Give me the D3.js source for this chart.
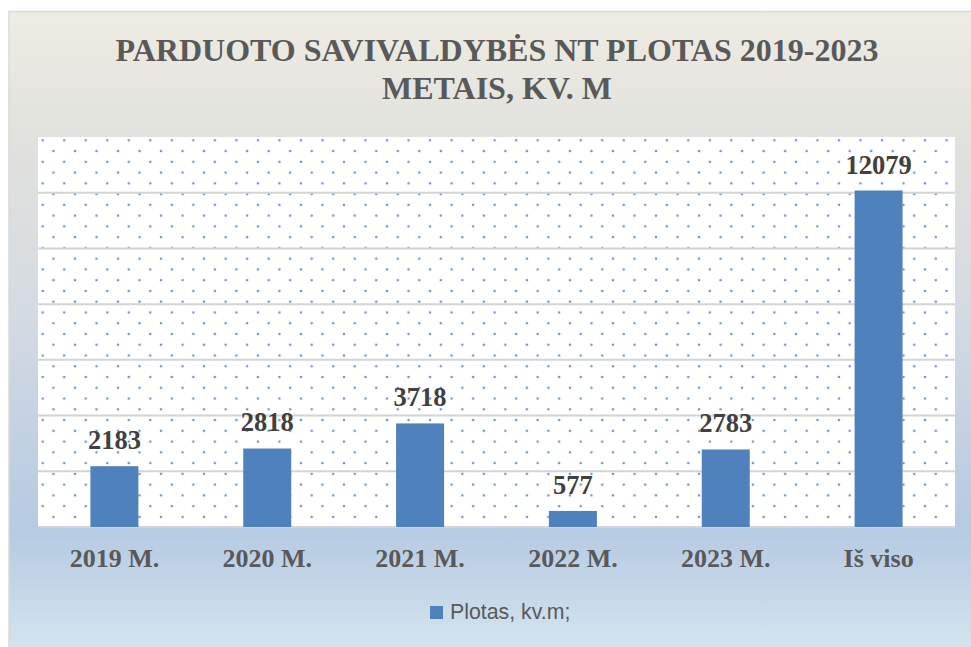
<!DOCTYPE html>
<html>
<head>
<meta charset="utf-8">
<script src="https://cdn.jsdelivr.net/npm/d3@7/dist/d3.min.js"></script>
<style>
html,body{margin:0;padding:0;background:#fff;}
svg{display:block;}
</style>
</head>
<body>
<svg id="chart" width="971" height="647"></svg>
<script>
const categories = ["2019 M.", "2020 M.", "2021 M.", "2022 M.", "2023 M.", "Iš viso"];
const values = [2183, 2818, 3718, 577, 2783, 12079];
const seriesName = "Plotas, kv.m;";
const titleLines = ["PARDUOTO SAVIVALDYBĖS NT PLOTAS 2019-2023", "METAIS, KV. M"];
const yTicks = [0, 2000, 4000, 6000, 8000, 10000, 12000];

const svg = d3.select("#chart");
const defs = svg.append("defs");

// background gradient
const grad = defs.append("linearGradient").attr("id", "bg").attr("x1", 0).attr("y1", 0).attr("x2", 0).attr("y2", 1);
[[0, "#eeece2"], [0.2, "#e1e1de"], [0.45, "#d5dbe2"], [0.8, "#b6cae2"], [1, "#d6e7ef"]].forEach(s =>
  grad.append("stop").attr("offset", s[0]).attr("stop-color", s[1]));

// dot pattern
const pat = defs.append("pattern").attr("id", "dots").attr("patternUnits", "userSpaceOnUse")
  .attr("width", 21.52).attr("height", 21.52).attr("x", 42.7).attr("y", 140.3);
pat.append("rect").attr("width", 21.52).attr("height", 21.52).attr("fill", "#fff");
[[0, 0], [10.76, 10.76], [21.52, 0], [0, 21.52], [21.52, 21.52]].forEach(p =>
  pat.append("circle").attr("cx", p[0]).attr("cy", p[1]).attr("r", 1.3).attr("fill", "#6a96d4"));

// chart area
svg.append("rect").attr("x", 9).attr("y", 11.5).attr("width", 980).attr("height", 650)
  .attr("fill", "url(#bg)").attr("stroke", "#d9d9d9").attr("stroke-width", 1.5);

const plot = {left: 38, top: 137, right: 955, bottom: 527};

const x = d3.scaleBand().domain(categories).range([plot.left, plot.right]).paddingInner(0.686).paddingOuter(0.343);
const y = d3.scaleLinear().domain([0, 14000]).range([plot.bottom, plot.top]);

svg.append("rect").attr("x", plot.left).attr("y", plot.top)
  .attr("width", plot.right - plot.left).attr("height", plot.bottom - plot.top)
  .attr("fill", "url(#dots)");

// gridlines
svg.append("g").selectAll("line").data(yTicks).join("line")
  .attr("x1", plot.left).attr("x2", plot.right)
  .attr("y1", d => y(d)).attr("y2", d => y(d))
  .attr("stroke", "#d4d4d4").attr("stroke-width", 2);

// bars
svg.append("g").selectAll("rect").data(values).join("rect")
  .attr("x", (d, i) => x(categories[i]))
  .attr("y", d => y(d))
  .attr("width", x.bandwidth())
  .attr("height", d => y(0) - y(d))
  .attr("fill", "#4f81bd");

// value labels
svg.append("g").selectAll("text").data(values).join("text")
  .attr("x", (d, i) => x(categories[i]) + x.bandwidth() / 2)
  .attr("y", d => y(d) - 17)
  .attr("text-anchor", "middle")
  .attr("font-family", "Liberation Serif, Times New Roman, serif")
  .attr("font-weight", "bold")
  .attr("font-size", 26.5)
  .attr("fill", "#404040")
  .text(d => d);

// x axis
const xAxis = svg.append("g").attr("transform", `translate(0,${plot.bottom})`)
  .call(d3.axisBottom(x).tickSize(0).tickPadding(0));
xAxis.select(".domain").remove();
xAxis.selectAll("text")
  .attr("dy", 0).attr("y", 40)
  .attr("font-family", "Liberation Serif, Times New Roman, serif")
  .attr("font-weight", "bold")
  .attr("font-size", 26)
  .attr("fill", "#595959");

// title
svg.append("g").selectAll("text").data(titleLines).join("text")
  .attr("x", 497).attr("y", (d, i) => 61 + i * 38)
  .attr("text-anchor", "middle")
  .attr("font-family", "Liberation Serif, Times New Roman, serif")
  .attr("font-weight", "bold")
  .attr("font-size", 32)
  .attr("fill", "#595959")
  .text(d => d);

// legend
const lg = svg.append("g").attr("transform", "translate(430,606)");
lg.append("rect").attr("width", 13).attr("height", 13).attr("fill", "#4f81bd");
lg.append("text").attr("x", 20).attr("y", 13.3)
  .attr("font-family", "Liberation Sans, Arial, sans-serif")
  .attr("font-size", 21.3)
  .attr("fill", "#595959")
  .text(seriesName);
</script>
</body>
</html>
